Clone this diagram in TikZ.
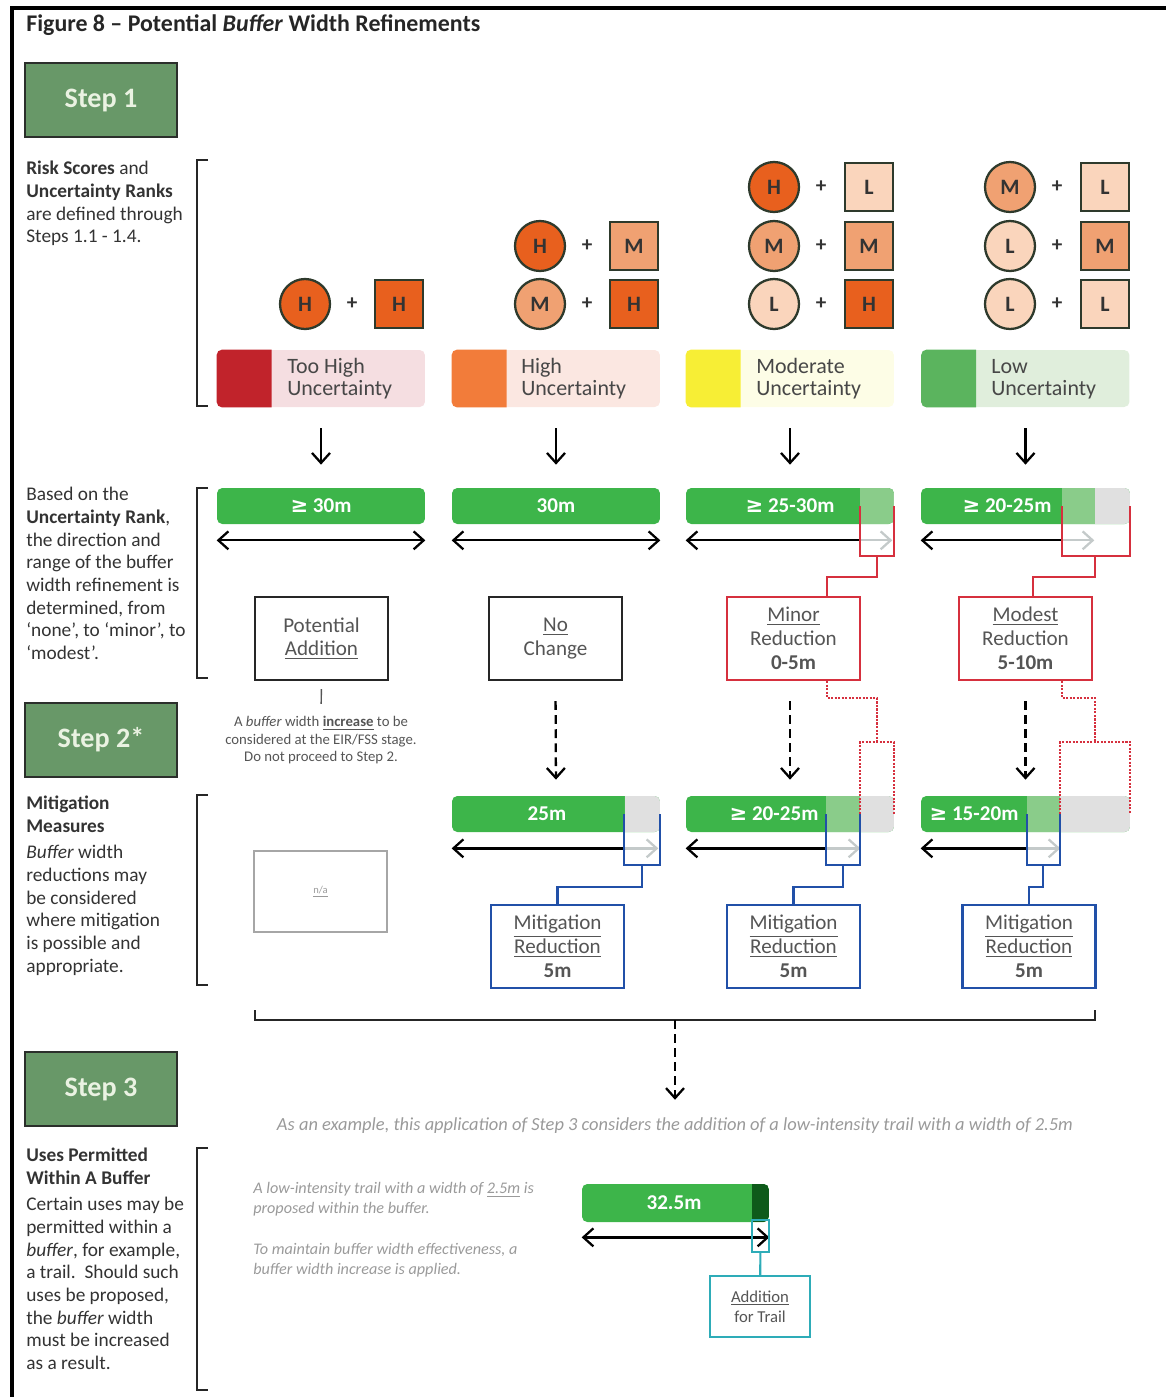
\documentclass[tikz,border=0pt]{standalone}
\usepackage{fontspec}
\setmainfont{Carlito}
\newfontfamily\bufSymFont{DejaVu Sans}
\usepackage{tikz}
\usetikzlibrary{arrows.meta,calc}
\definecolor{bufInk}{HTML}{333333}
\definecolor{bufSoft}{HTML}{555555}
\definecolor{bufMute}{HTML}{9A9A9A}
\definecolor{stepFill}{HTML}{689868}
\definecolor{stepEdge}{HTML}{2B2F2B}
\definecolor{stepText}{HTML}{EAF2E2}
\definecolor{riskHigh}{HTML}{E8601E}
\definecolor{riskMid}{HTML}{F0A172}
\definecolor{riskLow}{HTML}{FAD5BC}
\definecolor{riskEdge}{HTML}{2E3A2C}
\definecolor{uncRed}{HTML}{C1232B}
\definecolor{uncRedTint}{HTML}{F5DEE1}
\definecolor{uncOrange}{HTML}{F27C3A}
\definecolor{uncOrangeTint}{HTML}{FBE7E1}
\definecolor{uncYellow}{HTML}{F7EE35}
\definecolor{uncYellowTint}{HTML}{FDFDE6}
\definecolor{uncGreen}{HTML}{5BB45E}
\definecolor{uncGreenTint}{HTML}{E0EEDC}
\definecolor{barGreen}{HTML}{3DB54A}
\definecolor{barPale}{HTML}{8ACC8A}
\definecolor{barGrey}{HTML}{E0E0E0}
\definecolor{barDark}{HTML}{0E5A1A}
\definecolor{arrowGrey}{HTML}{C4CACA}
\definecolor{cutRed}{HTML}{D6303E}
\definecolor{cutBlue}{HTML}{2150A8}
\definecolor{cutTeal}{HTML}{2EACB8}
\newcommand{\bufGeq}{{\bufSymFont ≥}}
\tikzset{
  bufStep/.style={draw=stepEdge, line width=1.4pt, fill=stepFill, text=stepText, font=\fontsize{16}{19}\selectfont\bfseries, minimum width=3.04cm, minimum height=1.48cm},
  bufSide/.style={anchor=north west, align=left, inner sep=0pt, text=bufInk, font=\fontsize{11}{12.9}\selectfont},
  bufBrace/.style={draw=black!85, line width=1.3pt},
  bufRisk/.style={circle, draw=riskEdge, line width=1.3pt, minimum size=1cm, inner sep=0pt, text=bufInk, font=\fontsize{12.5}{14}\selectfont\bfseries},
  bufScore/.style={draw=riskEdge, line width=1.3pt, minimum size=0.96cm, inner sep=0pt, text=bufInk, font=\fontsize{12.5}{14}\selectfont\bfseries},
  bufPlus/.style={inner sep=0pt, text=bufInk, font=\fontsize{12}{14}\selectfont\bfseries},
  bufLegend/.style={rounded corners=3pt, minimum width=4.16cm, minimum height=1.14cm, inner sep=0pt},
  bufLegendText/.style={anchor=west, align=left, inner sep=0pt, text=bufInk!90, font=\fontsize{12.5}{12.5}\selectfont},
  bufBar/.style={fill=barGreen, rounded corners=3pt, minimum height=0.72cm, inner sep=0pt},
  bufBarText/.style={inner sep=0pt, text=white, font=\fontsize{12}{14}\selectfont\bfseries},
  bufShade/.style 2 args={path picture={
      \fill[barPale, sharp corners] ([xshift=-#2]path picture bounding box.north east) rectangle ([xshift=-#1]path picture bounding box.south east);
      \fill[barGrey, sharp corners] ([xshift=-#1]path picture bounding box.north east) rectangle (path picture bounding box.south east);}},
  bufTrail/.style={path picture={
      \fill[barDark, sharp corners] ([xshift=-0.34cm]path picture bounding box.north east) rectangle (path picture bounding box.south east);}},
  bufBox/.style={draw=black!85, line width=1.3pt, fill=white, minimum width=2.66cm, minimum height=1.66cm, align=center, text=bufSoft, font=\fontsize{12}{13.6}\selectfont},
  bufArrow/.style={-{Straight Barb[length=2mm,width=3.6mm]}, line width=1.3pt},
  bufRange/.style={{Straight Barb[length=2mm,width=3.6mm]}-{Straight Barb[length=2mm,width=3.6mm]}, line width=1.3pt}
}

\begin{document}
\begin{tikzpicture}[x=0.02cm, y=-0.02cm,
    bufRedLine/.style={draw=cutRed, line width=1.2pt},
    bufRedDots/.style={draw=cutRed, line width=1.2pt, dash pattern=on 1.2pt off 0.8pt},
    bufBlueLine/.style={draw=cutBlue, line width=1.2pt},
    bufGreyTip/.style={-{Straight Barb[length=2mm,width=3.6mm]}, line width=1.3pt, arrowGrey},
    bufDashArrow/.style={-{Straight Barb[length=2mm,width=3.6mm]}, line width=1.3pt, dash pattern=on 5pt off 3pt}
  ]
  \useasboundingbox (0,0) rectangle (1166,1397);
  \draw[line width=1.8pt] (12,1397) -- (12,8) -- (1166,8);
  \node[anchor=west, inner sep=0pt, text=black!85, font=\fontsize{13.6}{16}\selectfont\bfseries] (title) at (26,25) {Figure 8 – Potential \textit{Buffer} Width Refinements};

  \node[bufStep] (step1) at (101,100) {Step 1};
  \node[bufStep] (step2) at (101,740) {Step 2*};
  \node[bufStep] (step3) at (101,1089) {Step 3};

  \node[bufSide] (sideRisk) at (26,161) {\textbf{Risk Scores} and\\\textbf{Uncertainty Ranks}\\are defined through\\Steps 1.1 - 1.4.};
  \node[bufSide] (sideRank) at (26,487) {Based on the\\\textbf{Uncertainty Rank},\\the direction and\\range of the buffer\\width refinement is\\determined, from\\‘none’, to ‘minor’, to\\‘modest’.};
  \node[bufSide] (sideMitig) at (26,796) {\textbf{Mitigation}\\\textbf{Measures}\\[2pt]\textit{Buffer} width\\reductions may\\be considered\\where mitigation\\is possible and\\appropriate.};
  \node[bufSide] (sideUses) at (26,1148) {\textbf{Uses Permitted}\\\textbf{Within A Buffer}\\[2pt]Certain uses may be\\permitted within a\\\textit{buffer}, for example,\\a trail.\ \ Should such\\uses be proposed,\\the \textit{buffer} width\\must be increased\\as a result.};

  \draw[bufBrace] (208,160) -- (197,160) -- (197,406) -- (208,406);
  \draw[bufBrace] (208,488) -- (197,488) -- (197,678) -- (208,678);
  \draw[bufBrace] (208,795) -- (197,795) -- (197,985) -- (208,985);
  \draw[bufBrace] (208,1148) -- (197,1148) -- (197,1390) -- (208,1390);

  \node[bufRisk, fill=riskHigh] (riskA1) at (305,304) {H};
  \node[bufPlus] (plusA1) at (352,304) {+};
  \node[bufScore, fill=riskHigh] (scoreA1) at (399,304) {H};

  \node[bufRisk, fill=riskHigh] (riskB1) at (540,246) {H};
  \node[bufPlus] (plusB1) at (587,246) {+};
  \node[bufScore, fill=riskMid] (scoreB1) at (634,246) {M};
  \node[bufRisk, fill=riskMid] (riskB2) at (540,304) {M};
  \node[bufPlus] (plusB2) at (587,304) {+};
  \node[bufScore, fill=riskHigh] (scoreB2) at (634,304) {H};

  \node[bufRisk, fill=riskHigh] (riskC1) at (774,187) {H};
  \node[bufPlus] (plusC1) at (821,187) {+};
  \node[bufScore, fill=riskLow] (scoreC1) at (869,187) {L};
  \node[bufRisk, fill=riskMid] (riskC2) at (774,246) {M};
  \node[bufPlus] (plusC2) at (821,246) {+};
  \node[bufScore, fill=riskMid] (scoreC2) at (869,246) {M};
  \node[bufRisk, fill=riskLow] (riskC3) at (774,304) {L};
  \node[bufPlus] (plusC3) at (821,304) {+};
  \node[bufScore, fill=riskHigh] (scoreC3) at (869,304) {H};

  \node[bufRisk, fill=riskMid] (riskD1) at (1010,187) {M};
  \node[bufPlus] (plusD1) at (1057,187) {+};
  \node[bufScore, fill=riskLow] (scoreD1) at (1105,187) {L};
  \node[bufRisk, fill=riskLow] (riskD2) at (1010,246) {L};
  \node[bufPlus] (plusD2) at (1057,246) {+};
  \node[bufScore, fill=riskMid] (scoreD2) at (1105,246) {M};
  \node[bufRisk, fill=riskLow] (riskD3) at (1010,304) {L};
  \node[bufPlus] (plusD3) at (1057,304) {+};
  \node[bufScore, fill=riskLow] (scoreD3) at (1105,304) {L};

  \node[bufLegend, fill=uncRedTint] (tooHigh) at (321,378.5) {};
  \fill[uncRed] ([xshift=1.1cm]tooHigh.north west) [rounded corners=3pt] -- (tooHigh.north west) -- (tooHigh.south west) [sharp corners] -- ([xshift=1.1cm]tooHigh.south west) -- cycle;
  \node[bufLegendText] (tooHighText) at (287,379) {Too High\\Uncertainty};
  \node[bufLegend, fill=uncOrangeTint] (high) at (556,378.5) {};
  \fill[uncOrange] ([xshift=1.1cm]high.north west) [rounded corners=3pt] -- (high.north west) -- (high.south west) [sharp corners] -- ([xshift=1.1cm]high.south west) -- cycle;
  \node[bufLegendText] (highText) at (521,379) {High\\Uncertainty};
  \node[bufLegend, fill=uncYellowTint] (moderate) at (790,378.5) {};
  \fill[uncYellow] ([xshift=1.1cm]moderate.north west) [rounded corners=3pt] -- (moderate.north west) -- (moderate.south west) [sharp corners] -- ([xshift=1.1cm]moderate.south west) -- cycle;
  \node[bufLegendText] (moderateText) at (756,379) {Moderate\\Uncertainty};
  \node[bufLegend, fill=uncGreenTint] (low) at (1025.5,378.5) {};
  \fill[uncGreen] ([xshift=1.1cm]low.north west) [rounded corners=3pt] -- (low.north west) -- (low.south west) [sharp corners] -- ([xshift=1.1cm]low.south west) -- cycle;
  \node[bufLegendText] (lowText) at (991,379) {Low\\Uncertainty};

  \node[bufBar, minimum width=4.16cm] (bar1) at (321,506) {};
  \node[bufBarText] (bar1Text) at (321,506) {\bufGeq{} 30m};
  \node[bufBar, minimum width=4.16cm] (bar2) at (556,506) {};
  \node[bufBarText] (bar2Text) at (556,506) {30m};
  \node[bufBar, minimum width=4.16cm, bufShade={0cm}{0.68cm}] (bar3) at (790,506) {};
  \node[bufBarText] (bar3Text) at (790,506) {\bufGeq{} 25-30m};
  \node[bufBar, minimum width=4.18cm, bufShade={0.7cm}{1.36cm}] (bar4) at (1025.5,506) {};
  \node[bufBarText] (bar4Text) at (1007,506) {\bufGeq{} 20-25m};

  \draw[bufArrow, shorten <=0.42cm, shorten >=0.46cm] (tooHigh.south) -- (bar1.north);
  \draw[bufArrow, shorten <=0.42cm, shorten >=0.46cm] (high.south) -- (bar2.north);
  \draw[bufArrow, shorten <=0.42cm, shorten >=0.46cm] (moderate.south) -- (bar3.north);
  \draw[bufArrow, shorten <=0.42cm, shorten >=0.46cm] (low.south) -- (bar4.north);

  \draw[bufRange] ([yshift=-0.32cm]bar1.south west) -- ([yshift=-0.32cm]bar1.south east);
  \draw[bufRange] ([yshift=-0.32cm]bar2.south west) -- ([yshift=-0.32cm]bar2.south east);
  \draw[bufGreyTip] ([shift={(-0.68cm,-0.32cm)}]bar3.south east) -- ([shift={(-0.04cm,-0.32cm)}]bar3.south east);
  \draw[bufArrow] ([shift={(-0.68cm,-0.32cm)}]bar3.south east) -- ([yshift=-0.32cm]bar3.south west);
  \draw[bufGreyTip] ([shift={(-1.36cm,-0.32cm)}]bar4.south east) -- ([shift={(-0.72cm,-0.32cm)}]bar4.south east);
  \draw[bufArrow] ([shift={(-1.36cm,-0.32cm)}]bar4.south east) -- ([yshift=-0.32cm]bar4.south west);

  \node[bufBox] (potAdd) at (321.5,638.5) {Potential\\\underline{Addition}};
  \node[bufBox] (noChange) at (555.5,638.5) {\underline{No}\\Change};
  \node[bufBox, draw=cutRed] (minorBox) at (793.5,638.5) {\underline{Minor}\\Reduction\\\textbf{0-5m}};
  \node[bufBox, draw=cutRed] (modestBox) at (1025.5,638.5) {\underline{Modest}\\Reduction\\\textbf{5-10m}};

  \coordinate (cut3) at (877,556);
  \draw[bufRedLine] ([xshift=-0.68cm]bar3.east) |- (cut3) -| (bar3.east);
  \draw[bufRedLine] (cut3) -- ++(0,21) -| ([xshift=0.67cm]minorBox.north);
  \coordinate (cut4) at (1095,556);
  \draw[bufRedLine] ([xshift=-1.36cm]bar4.east) |- (cut4) -| (bar4.east);
  \draw[bufRedLine] (cut4) -- ++(0,21) -| ([xshift=0.15cm]modestBox.north);

  \node[align=center, inner sep=0pt, text=bufSoft, font=\fontsize{8.4}{9.9}\selectfont] (addNote) at (321,740) {A \textit{buffer} width \underline{\textbf{increase}} to be\\considered at the EIR/FSS stage.\\Do not proceed to Step 2.};
  \draw[bufSoft, line width=0.8pt, shorten <=0.16cm, shorten >=0.24cm] (potAdd.south) -- (addNote.north);

  \node[bufBar, minimum width=4.16cm, bufShade={0.7cm}{0.7cm}] (bar6) at (556,814) {};
  \node[bufBarText] (bar6Text) at (547,814) {25m};
  \node[bufBar, minimum width=4.16cm, bufShade={0.68cm}{1.36cm}] (bar7) at (790,814) {};
  \node[bufBarText] (bar7Text) at (774,814) {\bufGeq{} 20-25m};
  \node[bufBar, minimum width=4.18cm, bufShade={1.4cm}{2.06cm}] (bar8) at (1025.5,814) {};
  \node[bufBarText] (bar8Text) at (974,814) {\bufGeq{} 15-20m};

  \draw[bufDashArrow, shorten <=0.4cm, shorten >=0.32cm] (noChange.south) -- (bar6.north);
  \draw[bufDashArrow, shorten <=0.4cm, shorten >=0.32cm] (bar7.north |- minorBox.south) -- (bar7.north);
  \draw[bufDashArrow, shorten <=0.4cm, shorten >=0.32cm] (bar8.north |- modestBox.south) -- (bar8.north);

  \coordinate (cutB3) at (877,742);
  \draw[bufRedDots] ([xshift=0.67cm]minorBox.south) -- ++(0,17) -| (cutB3);
  \draw[bufRedDots] ([xshift=-0.68cm]bar7.east) |- (cutB3) -| (bar7.east);
  \coordinate (cutB4) at (1095,742);
  \draw[bufRedDots] ([xshift=0.73cm]modestBox.south) -- ++(0,17) -| (cutB4);
  \draw[bufRedDots] ([xshift=-1.4cm]bar8.east) |- (cutB4) -| (bar8.east);

  \draw[bufGreyTip] ([shift={(-0.7cm,-0.32cm)}]bar6.south east) -- ([shift={(-0.04cm,-0.32cm)}]bar6.south east);
  \draw[bufArrow] ([shift={(-0.7cm,-0.32cm)}]bar6.south east) -- ([yshift=-0.32cm]bar6.south west);
  \draw[bufGreyTip] ([shift={(-1.36cm,-0.32cm)}]bar7.south east) -- ([shift={(-0.68cm,-0.32cm)}]bar7.south east);
  \draw[bufArrow] ([shift={(-1.36cm,-0.32cm)}]bar7.south east) -- ([yshift=-0.32cm]bar7.south west);
  \draw[bufGreyTip] ([shift={(-2.06cm,-0.32cm)}]bar8.south east) -- ([shift={(-1.4cm,-0.32cm)}]bar8.south east);
  \draw[bufArrow] ([shift={(-2.06cm,-0.32cm)}]bar8.south east) -- ([yshift=-0.32cm]bar8.south west);

  \node[draw=black!35, line width=0.8pt, minimum width=2.66cm, minimum height=1.62cm, text=bufMute, font=\fontsize{6}{7}\selectfont] (naBox) at (320.5,891.5) {\underline{n/a}};
  \node[bufBox, draw=cutBlue] (mit2) at (557.5,946.5) {\underline{Mitigation}\\\underline{Reduction}\\\textbf{5m}};
  \node[bufBox, draw=cutBlue] (mit3) at (793.5,946.5) {\underline{Mitigation}\\\underline{Reduction}\\\textbf{5m}};
  \node[bufBox, draw=cutBlue] (mit4) at (1029,946.5) {\underline{Mitigation}\\\underline{Reduction}\\\textbf{5m}};

  \coordinate (cutC2) at (642,865);
  \draw[bufBlueLine] ([xshift=-0.72cm]bar6.east) |- (cutC2) -| (bar6.east);
  \draw[bufBlueLine] (cutC2) -- ++(0,22) -| (mit2.north);
  \coordinate (cutC3) at (843,865);
  \draw[bufBlueLine] ([xshift=-1.36cm]bar7.east) |- (cutC3) -| ([xshift=-0.68cm]bar7.east);
  \draw[bufBlueLine] (cutC3) -- ++(0,22) -| (mit3.north);
  \coordinate (cutC4) at (1043,865);
  \draw[bufBlueLine] ([xshift=-2.06cm]bar8.east) |- (cutC4) -| ([xshift=-1.4cm]bar8.east);
  \draw[bufBlueLine] (cutC4) -- ++(0,22) -| (mit4.north);

  \coordinate (joinL) at (255,1020);
  \coordinate (joinR) at (1095,1020);
  \coordinate (joinM) at (675,1020);
  \draw[bufBrace] ([yshift=0.2cm]joinL) -- (joinL) -- (joinR) -- ([yshift=0.2cm]joinR);
  \node[inner sep=0pt, text=bufMute, font=\fontsize{10.5}{12}\selectfont\itshape] (exampleNote) at (675,1126) {As an example, this application of Step 3 considers the addition of a low-intensity trail with a width of 2.5m};
  \draw[bufDashArrow, shorten >=0.36cm] (joinM) -- (exampleNote.north);

  \node[anchor=north west, align=left, inner sep=0pt, text=bufMute, font=\fontsize{9.2}{11.4}\selectfont\itshape] (trailNote) at (253,1182) {A low-intensity trail with a width of \underline{2.5m} is\\proposed within the buffer.\\[12pt]To maintain buffer width effectiveness, a\\buffer width increase is applied.};

  \node[bufBar, minimum width=3.74cm, minimum height=0.76cm, bufTrail] (bar9) at (675.5,1203) {};
  \node[bufBarText] (bar9Text) at (674,1203) {32.5m};
  \draw[bufRange] ([yshift=-0.3cm]bar9.south west) -- ([yshift=-0.3cm]bar9.south east);
  \node[draw=cutTeal, line width=1.2pt, minimum width=0.34cm, minimum height=0.64cm, inner sep=0pt] (trailCut) at (760.5,1236) {};
  \node[bufBox, draw=cutTeal, minimum width=2cm, minimum height=1.22cm, font=\fontsize{9.5}{11.4}\selectfont] (trailBox) at (760,1306.5) {\underline{Addition}\\for Trail};
  \draw[draw=cutTeal, line width=1.2pt] (trailCut) -- (trailBox);
\end{tikzpicture}
\end{document}
